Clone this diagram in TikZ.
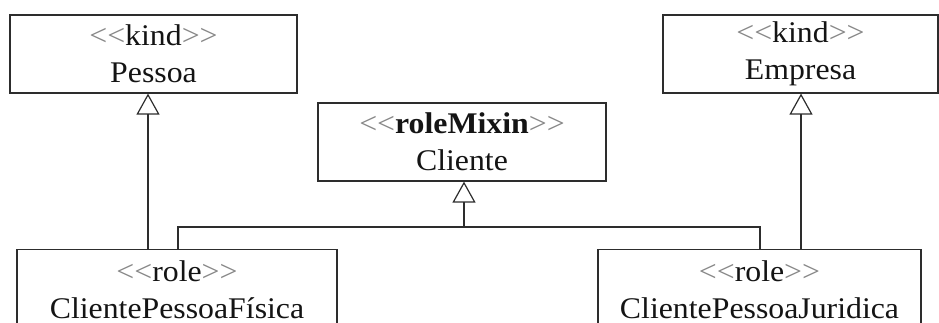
\documentclass[tikz,border=0pt]{standalone}
\usepackage{fontspec}
\setmainfont{Liberation Serif}[FakeStretch=1.06]
\usetikzlibrary{arrows.meta}
\definecolor{linec}{RGB}{45,45,45}
\definecolor{txtc}{RGB}{20,20,20}
\definecolor{guil}{RGB}{135,135,135}
% stereotype label: grey angle brackets around the keyword
\newcommand\stereo[1]{{\color{guil}<\kern0pt<}#1{\color{guil}>\kern0pt>}}
\begin{document}
\begin{tikzpicture}[x=1pt,y=-1pt,
  cls/.style={draw=linec, line width=1.2pt, align=center, text=txtc,
    font=\fontsize{30}{37}\selectfont, inner sep=0pt},
  topcls/.style={cls, minimum height=78pt},
  botcls/.style={cls, anchor=north, inner ysep=11pt},
  assoc/.style={draw=linec, line width=1.2pt},
  gen/.style={assoc, -{Triangle[open, length=21pt, width=23pt, line width=1.2pt]}}]
\useasboundingbox (0,0) rectangle (939,323);
\clip (0,0) rectangle (939,323);

% classes
\node[topcls, minimum width=287pt] (pessoa) at (153.5,54) {\stereo{kind}\\Pessoa};
\node[topcls, minimum width=275pt] (empresa) at (800.5,54) {\stereo{kind}\\Empresa};
\node[topcls, minimum width=288pt] (cliente) at (462,142) {\stereo{\textbf{roleMixin}}\\Cliente};
\node[botcls, minimum width=320pt] (cpf) at (177,249) {\stereo{role}\\ClientePessoaFísica\\\phantom{X}};
\node[botcls, minimum width=323pt] (cpj) at (759.5,249) {\stereo{role}\\ClientePessoaJuridica\\\phantom{X}};

% x positions of the connectors and height of the shared branch
\coordinate (xp) at (148,0);
\coordinate (xe) at (801,0);
\coordinate (xc) at (464,0);
\coordinate (xl) at (178,0);
\coordinate (xr) at (760,0);
\coordinate (bus) at (0,227);

% generalizations
\draw[gen] (cpf.north -| xp) -- (pessoa.south -| xp);
\draw[gen] (cpj.north -| xe) -- (empresa.south -| xe);
\draw[assoc] (cpf.north -| xl) -- (bus -| xl) -- (bus -| xr) -- (cpj.north -| xr);
\draw[gen] (bus -| xc) -- (cliente.south -| xc);
\end{tikzpicture}
\end{document}
